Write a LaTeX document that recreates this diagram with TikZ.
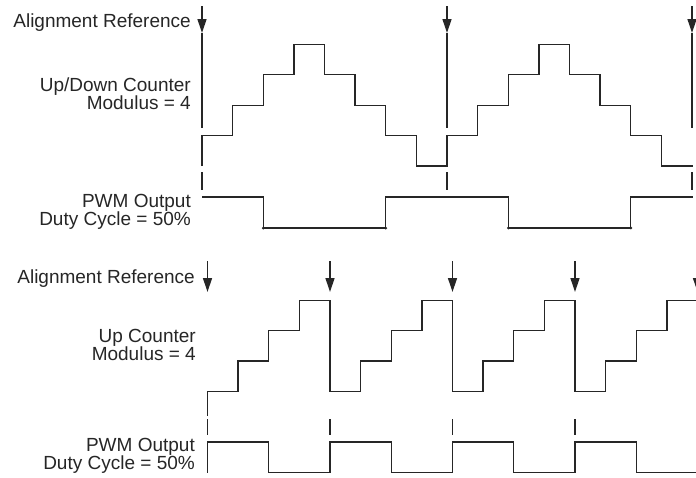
\documentclass[tikz,border=0pt]{standalone}
\usepackage{fontspec}
\setmainfont{Liberation Sans}
\usetikzlibrary{arrows.meta}
\begin{document}
\begin{tikzpicture}[x=1pt,y=-1pt,
  wave/.style={line width=1.3pt, draw=black!85, line join=miter},
  refline/.style={line width=1.3pt, draw=black!85},
  refarrow/.style={line width=1.3pt, draw=black!85, -{Triangle[width=9pt,length=14pt]}},
  tickmark/.style={line width=1.3pt, draw=black!85},
  corner/.style={fill=black!85},
  lbl/.style={inner sep=0pt, anchor=base east, font=\fontsize{19}{19}\selectfont, text=black!85},
]
\path[use as bounding box] (0,0) rectangle (696,477);
\clip (0,0) rectangle (696,477);

% ---------------- up/down counter ----------------
\node[lbl] (arA) at (191,27) {Alignment Reference};
\node[lbl] (cntA1) at (191,91) {Up/Down Counter};
\node[lbl] (cntA2) at (191,109) {Modulus = 4};
\node[lbl] (pwmA1) at (191,207) {PWM Output};
\node[lbl] (pwmA2) at (191,225) {Duty Cycle = 50\%};

% alignment markers
\foreach \x in {202,447,692} {
  \draw[refarrow] (\x,6) -- (\x,33);
  \draw[refline] (\x,33) -- (\x,128);
  \draw[tickmark] (\x,172) -- (\x,190);
}

% triangular count: levels 166, 135.6, 105.2, 74.8, 44.4
\draw[wave] (202,166) -- (202,135.6) -- (232.6,135.6) -- (232.6,105.2) -- (263.25,105.2)
  -- (263.25,74.8) -- (293.9,74.8) -- (293.9,44.4) -- (324.5,44.4) -- (324.5,74.8)
  -- (355.1,74.8) -- (355.1,105.2) -- (385.75,105.2) -- (385.75,135.6) -- (416.4,135.6)
  -- (416.4,166) -- (447,166)
  -- (447,135.6) -- (477.6,135.6) -- (477.6,105.2) -- (508.25,105.2)
  -- (508.25,74.8) -- (538.9,74.8) -- (538.9,44.4) -- (569.5,44.4) -- (569.5,74.8)
  -- (600.1,74.8) -- (600.1,105.2) -- (630.75,105.2) -- (630.75,135.6) -- (661.4,135.6)
  -- (661.4,166) -- (693,166);

% PWM output
\draw[wave] (202,197) -- (263.25,197) -- (263.25,228) -- (385.75,228) -- (385.75,197)
  -- (508.25,197) -- (508.25,228) -- (630.75,228) -- (630.75,197) -- (693,197);
\foreach \x in {263.25,385.75,508.25,630.75}
  \fill[corner] (\x,228) circle (1.5pt);

% ---------------- up counter ----------------
\node[lbl] (arB) at (195,283) {Alignment Reference};
\node[lbl] (cntB1) at (196,342) {Up Counter};
\node[lbl] (cntB2) at (196,360) {Modulus = 4};
\node[lbl] (pwmB1) at (195,451) {PWM Output};
\node[lbl] (pwmB2) at (195,469.5) {Duty Cycle = 50\%};

% alignment markers
\foreach \x in {207.5,330,452.5,575,697.5} {
  \draw[refarrow] (\x,261) -- (\x,292);
  \draw[tickmark] (\x,419) -- (\x,435);
}

% sawtooth count: levels 391.5, 361.1, 330.7, 300.3
\draw[wave] (207.5,416) -- (207.5,391.5)
  -- (238.1,391.5) -- (238.1,361.1) -- (268.75,361.1) -- (268.75,330.7) -- (299.4,330.7) -- (299.4,300.3) -- (330,300.3) -- (330,391.5)
  -- (360.6,391.5) -- (360.6,361.1) -- (391.25,361.1) -- (391.25,330.7) -- (421.9,330.7) -- (421.9,300.3) -- (452.5,300.3) -- (452.5,391.5)
  -- (483.1,391.5) -- (483.1,361.1) -- (513.75,361.1) -- (513.75,330.7) -- (544.4,330.7) -- (544.4,300.3) -- (575,300.3) -- (575,391.5)
  -- (605.6,391.5) -- (605.6,361.1) -- (636.25,361.1) -- (636.25,330.7) -- (666.9,330.7) -- (666.9,300.3) -- (697.5,300.3);

% PWM output
\draw[wave] (207.5,472.5) -- (207.5,442) -- (268.75,442) -- (268.75,472.5) -- (330,472.5)
  -- (330,442) -- (391.25,442) -- (391.25,472.5) -- (452.5,472.5)
  -- (452.5,442) -- (513.75,442) -- (513.75,472.5) -- (575,472.5)
  -- (575,442) -- (636.25,442) -- (636.25,472.5) -- (697.5,472.5);
\end{tikzpicture}
\end{document}
